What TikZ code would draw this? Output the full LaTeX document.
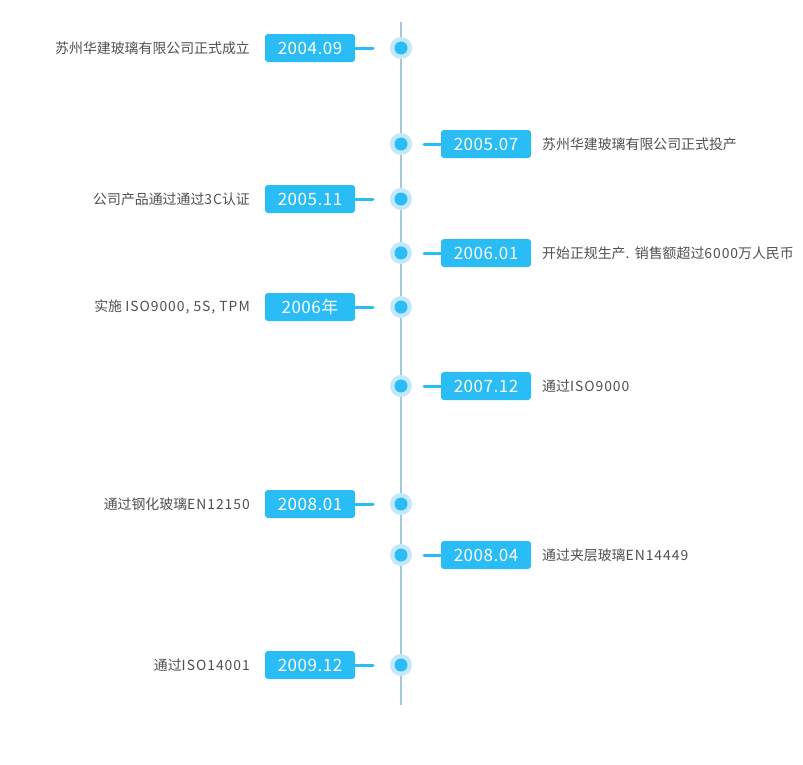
\documentclass[tikz,border=0pt]{standalone}
\usepackage{fontspec}
\setmainfont{Noto Sans CJK SC}
\newfontfamily\widelat[LetterSpace=7]{Noto Sans CJK SC}
\newfontfamily\yearfont[LetterSpace=3]{Noto Sans CJK SC}
\definecolor{lineblue}{HTML}{A3CAD6}
\definecolor{boxblue}{HTML}{29BCF5}
\definecolor{haloblue}{HTML}{C3E8FA}
\definecolor{textgray}{HTML}{505050}
\tikzset{
	yearbox/.style={fill=boxblue, text=white, rounded corners=3pt, minimum width=90pt, minimum height=28pt, inner sep=0pt, font=\yearfont\fontsize{17}{18}\selectfont},
	evhalo/.style={circle, fill=haloblue, minimum size=22pt, inner sep=0pt},
	evdot/.style={circle, fill=boxblue, minimum size=13pt, inner sep=0pt},
	conn/.style={draw=boxblue, line width=3pt, line cap=round},
	note/.style={text=textgray, inner sep=0pt, font=\fontsize{13.9}{16}\selectfont}
}
\newcommand{\lat}[1]{{\widelat #1}}
\begin{document}
\begin{tikzpicture}[x=1pt,y=-1pt]
	\useasboundingbox (0,0) rectangle (803,764);
	\coordinate (top) at (401,22);
	\coordinate (bottom) at (401,705);
	\draw[lineblue, line width=2pt] (top)--(bottom);
	% left side
	\foreach \i/\y/\yr/\txt in {1/48/2004.09/{苏州华建玻璃有限公司正式成立},
		3/199/2005.11/{公司产品通过通过\lat{3C}认证},
		5/307/2006年/{实施 \lat{ISO9000, 5S, TPM}},
		7/504/2008.01/{通过钢化玻璃\lat{EN12150}},
		9/665/2009.12/{通过\lat{ISO14001}}}{
		\node[evhalo] (h\i) at (401,\y) {};
		\node[evdot] (d\i) at (401,\y) {};
		\node[yearbox] (b\i) at (310,\y) {\yr};
		\coordinate (c\i) at (373,\y);
		\draw[conn] (b\i.east)--(c\i);
		\node[note, anchor=east] (t\i) at (250,\y) {\txt};
	}
	% right side
	\foreach \i/\y/\yr/\txt in {2/144/2005.07/{苏州华建玻璃有限公司正式投产},
		4/253/2006.01/{开始正规生产\lat{. }销售额超过\lat{6000}万人民币},
		6/386/2007.12/{通过\lat{ISO9000}},
		8/555/2008.04/{通过夹层玻璃\lat{EN14449}}}{
		\node[evhalo] (h\i) at (401,\y) {};
		\node[evdot] (d\i) at (401,\y) {};
		\node[yearbox] (b\i) at (486,\y) {\yr};
		\coordinate (c\i) at (424,\y);
		\draw[conn] (c\i)--(b\i.west);
		\node[note, anchor=west] (t\i) at (542,\y) {\txt};
	}
\end{tikzpicture}
\end{document}
